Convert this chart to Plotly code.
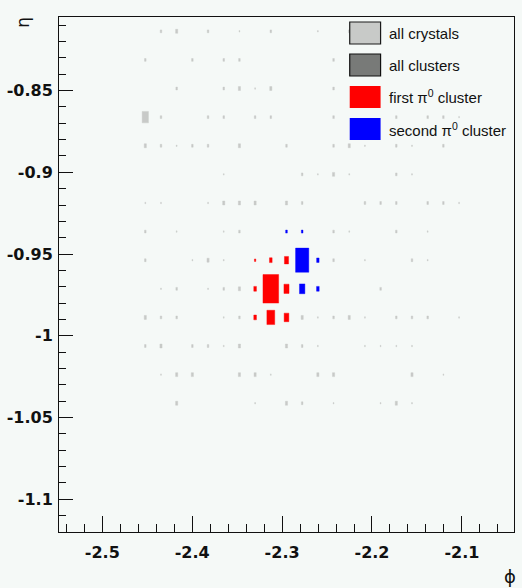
import math
import plotly.graph_objects as go

# ECAL barrel crystal pitch
DPHI = 2 * math.pi / 360
DETA = 0.0175

# All crystals with a deposit: (ieta, iphi, energy in GeV), one eta row per line
crystal_ieta = (
    [-46] * 7 + [-47] * 5 + [-48] * 6 + [-49] * 11 + [-50] * 13 + [-51] * 7 + [-52] * 14
    + [-53] * 8 + [-54] * 8 + [-55] * 6 + [-56] * 14 + [-57] * 13 + [-58] * 10 + [-59] * 8
)
crystal_iphi = [
    41, 42, 44, 46, 48, 51, 53,
    40, 43, 45, 46, 52,
    42, 45, 46, 47, 48, 52,
    40, 41, 44, 45, 47, 48, 52, 56, 58, 59, 60,
    40, 41, 42, 43, 44, 46, 49, 52, 53, 54, 56, 57, 59,
    45, 50, 51, 52, 53, 56, 57,
    40, 41, 44, 45, 46, 47, 49, 50, 54, 55, 56, 58, 59, 60,
    40, 42, 45, 46, 52, 53, 56, 58,
    40, 43, 44, 45, 52, 54, 57, 58,
    41, 42, 44, 45, 46, 55,
    40, 41, 42, 45, 46, 50, 51, 52, 53, 54, 56, 57, 58, 60,
    40, 41, 43, 44, 45, 46, 49, 50, 51, 54, 55, 56, 57,
    41, 42, 43, 46, 47, 48, 51, 52, 57, 59,
    42, 47, 49, 50, 52, 55, 56, 57,
]
crystal_e = [
    0.16, 0.22, 0.16, 0.08, 0.16, 0.08, 0.16,
    0.16, 0.16, 0.16, 0.16, 0.16,
    0.16, 0.16, 0.22, 0.08, 0.22, 0.16,
    0.64, 0.16, 0.16, 0.16, 0.16, 0.16, 0.16, 0.16, 0.16, 0.16, 0.08,
    0.22, 0.16, 0.08, 0.16, 0.16, 0.22, 0.16, 0.16, 0.22, 0.08, 0.16, 0.08, 0.16,
    0.08, 0.16, 0.08, 0.22, 0.08, 0.16, 0.08,
    0.08, 0.08, 0.08, 0.22, 0.22, 0.22, 0.22, 0.16, 0.16, 0.16, 0.16, 0.16, 0.16, 0.08,
    0.16, 0.08, 0.08, 0.16, 0.16, 0.08, 0.16, 0.08,
    0.16, 0.08, 0.22, 0.08, 0.16, 0.08, 0.16, 0.08,
    0.08, 0.16, 0.08, 0.16, 0.22, 0.16,
    0.22, 0.16, 0.16, 0.08, 0.16, 0.22, 0.08, 0.16, 0.22, 0.08, 0.16, 0.16, 0.16, 0.08,
    0.16, 0.22, 0.16, 0.16, 0.08, 0.22, 0.22, 0.16, 0.08, 0.08, 0.08, 0.08, 0.08,
    0.08, 0.22, 0.22, 0.22, 0.22, 0.08, 0.22, 0.22, 0.22, 0.08,
    0.22, 0.08, 0.22, 0.16, 0.08, 0.08, 0.22, 0.08,
]

# First pi0 photon cluster
first_ieta = [-54, -54, -54, -55, -55, -55, -56, -56, -56]
first_iphi = [47, 48, 49, 47, 48, 49, 47, 48, 49]
first_e = [0.14, 0.27, 0.42, 0.27, 1.60, 0.52, 0.27, 0.80, 0.48]

# Second pi0 photon cluster
second_ieta = [-53, -53, -54, -54, -55, -55]
second_iphi = [49, 50, 50, 51, 50, 51]
second_e = [0.17, 0.17, 1.35, 0.25, 0.55, 0.27]

PHI_RANGE = [-2.5482, -2.0420]
ETA_RANGE = [-1.1200, -0.8050]

x_tickvals = [-2.5, -2.4, -2.3, -2.2, -2.1]
x_ticktext = ["-2.5", "-2.4", "-2.3", "-2.2", "-2.1"]
y_tickvals = [-0.85, -0.9, -0.95, -1.0, -1.05, -1.1]
y_ticktext = ["-0.85", "-0.9", "-0.95", "-1", "-1.05", "-1.1"]

legend_names = ["all crystals", "all clusters", "first π<sup>0</sup> cluster",
                "second π<sup>0</sup> cluster"]
legend_fill = ["#c8cac8", "#787a78", "#ff0000", "#0000ff"]
legend_edge = ["#1a1a1a", "#111111", None, None]

E_MAX = max(crystal_e + first_e + second_e)
BG = "#f5f9f7"


def box_outline(ieta, iphi, energy):
    """Closed rectangles, one per crystal, side proportional to energy."""
    xs, ys = [], []
    for a, b, v in zip(ieta, iphi, energy):
        phi = (b - 0.5) * DPHI - math.pi
        eta = (a - 0.5) * DETA
        f = v / E_MAX
        hx, hy = f * DPHI / 2, f * DETA / 2
        xs += [phi - hx, phi + hx, phi + hx, phi - hx, phi - hx, None]
        ys += [eta - hy, eta - hy, eta + hy, eta + hy, eta - hy, None]
    return xs, ys


fig = go.Figure()
for (ie, ip, en), color in zip(
    [(crystal_ieta, crystal_iphi, crystal_e),
     (first_ieta, first_iphi, first_e),
     (second_ieta, second_iphi, second_e)],
    [legend_fill[0], legend_fill[2], legend_fill[3]],
):
    xs, ys = box_outline(ie, ip, en)
    fig.add_trace(go.Scatter(
        x=xs, y=ys, mode="lines", fill="toself", fillcolor=color,
        line=dict(width=0.4, color=color), hoverinfo="skip", showlegend=False,
    ))

# Legend drawn as boxes + labels in the upper-right corner of the frame
plot_top, plot_h = 17, 515
for k, (name, fill, edge) in enumerate(zip(legend_names, legend_fill, legend_edge)):
    top = 22 + 32 * k
    y1 = (plot_h + plot_top - top) / plot_h
    y0 = (plot_h + plot_top - top - 22) / plot_h
    fig.add_shape(
        type="rect", xref="paper", yref="paper",
        x0=(350 - 58) / 457, x1=(381 - 58) / 457, y0=y0, y1=y1,
        fillcolor=fill,
        line=dict(color=edge if edge else fill, width=1.2 if edge else 0),
        layer="above",
    )
    fig.add_annotation(
        text=name, xref="paper", yref="paper",
        x=(387 - 58) / 457, y=(y0 + y1) / 2, xanchor="left", yanchor="middle",
        showarrow=False, font=dict(family="Liberation Sans", size=15, color="#111"),
    )

# Axis titles
fig.add_annotation(text="η", xref="paper", yref="paper", x=(21.5 - 58) / 457,
                   y=(532 - 22) / 515, textangle=-90, showarrow=False,
                   xanchor="center", yanchor="middle",
                   font=dict(family="DejaVu Sans", size=17, color="#111"))
fig.add_annotation(text="ϕ", xref="paper", yref="paper", x=(511 - 58) / 457,
                   y=(532 - 576) / 515, showarrow=False,
                   xanchor="center", yanchor="middle",
                   font=dict(family="DejaVu Sans", size=18, color="#111"))

tickfont = dict(family="DejaVu Sans", size=16, color="#111", weight="bold")
fig.update_xaxes(
    range=PHI_RANGE, tickmode="array", tickvals=x_tickvals, ticktext=x_ticktext,
    ticks="inside", ticklen=16, tickwidth=1, tickcolor="#111",
    minor=dict(tickmode="linear", tick0=-2.5, dtick=0.02, ticks="inside",
               ticklen=8, tickwidth=1, tickcolor="#111", showgrid=False),
    showline=True, linecolor="#111", linewidth=1, mirror=True,
    showgrid=False, zeroline=False, tickfont=tickfont, ticklabelstandoff=6,
)
fig.update_yaxes(
    range=ETA_RANGE, tickmode="array", tickvals=y_tickvals, ticktext=y_ticktext,
    ticks="inside", ticklen=14, tickwidth=1, tickcolor="#111",
    minor=dict(tickmode="linear", tick0=-1.0, dtick=0.01, ticks="inside",
               ticklen=7, tickwidth=1, tickcolor="#111", showgrid=False),
    showline=True, linecolor="#111", linewidth=1, mirror=True,
    showgrid=False, zeroline=False, tickfont=tickfont, ticklabelstandoff=2,
)
fig.update_layout(
    width=522, height=588, autosize=False,
    margin=dict(l=58, r=7, t=17, b=56),
    plot_bgcolor=BG, paper_bgcolor=BG, showlegend=False,
)

fig.write_html("out.html")
